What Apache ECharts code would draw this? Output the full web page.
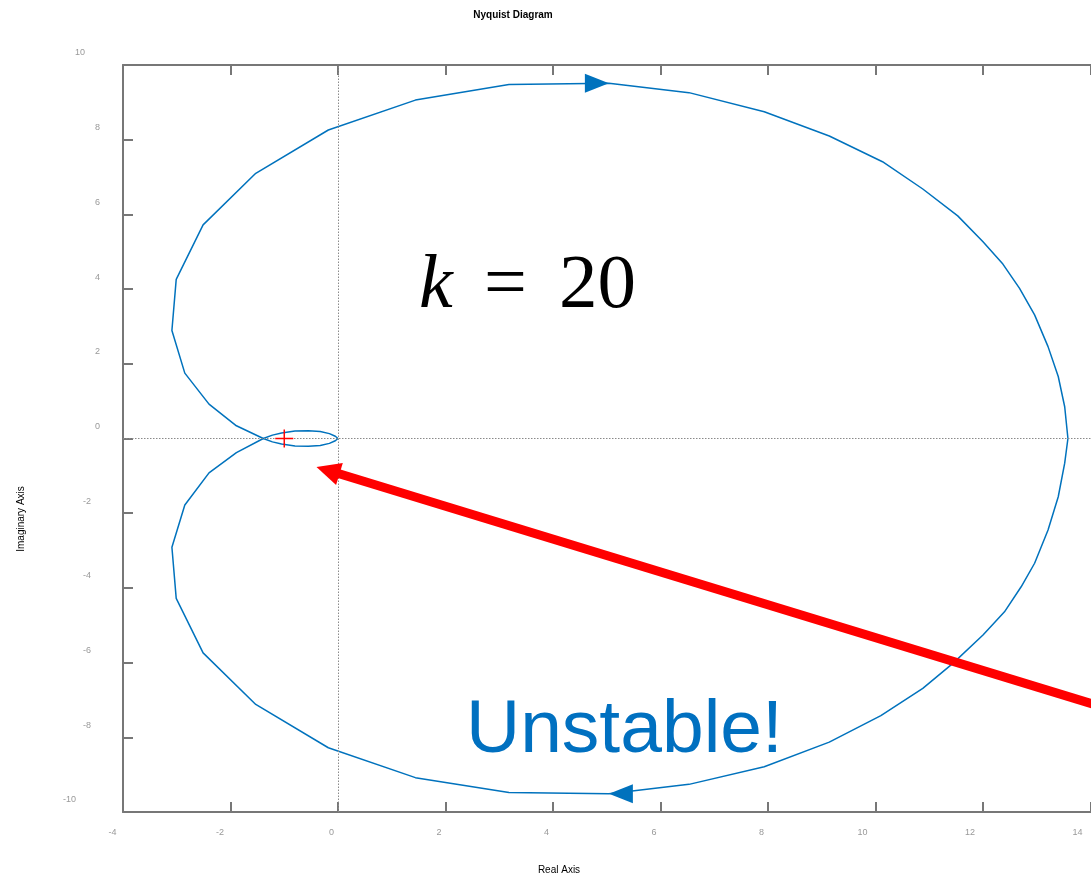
<!DOCTYPE html>
<html>
<head>
<meta charset="utf-8">
<title>Nyquist Diagram</title>
<script src="https://cdn.jsdelivr.net/npm/echarts@6/dist/echarts.min.js"></script>
<style>
  html, body { margin: 0; padding: 0; background: #ffffff; }
  #chart { width: 1091px; height: 876px; }
</style>
</head>
<body>
<div id="chart"></div>
<script>
// Axis ticks
const xTicks = [-4, -2, 0, 2, 4, 6, 8, 10, 12, 14, 16];
const yTicks = [-10, -8, -6, -4, -2, 0, 2, 4, 6, 8, 10];

// Nyquist contour for k = 20, branch traced from w = 0 (right end) through the lower half-plane to the origin
const posRe = [13.58, 13.52, 13.40, 13.21, 12.96, 12.71, 12.40, 12.00, 11.44, 10.88, 10.10, 9.14, 7.93, 6.53, 5.04, 3.18, 1.44, -0.18, -1.53, -2.51, -3.01, -3.09, -2.85, -2.40, -1.89, -1.39, -1.22, -1.05, -0.80, -0.55, -0.33, -0.16, -0.05, 0.00];
const posIm = [0.00, -0.66, -1.56, -2.45, -3.34, -3.97, -4.64, -5.26, -6.02, -6.69, -7.42, -8.13, -8.79, -9.26, -9.51, -9.48, -9.08, -8.28, -7.12, -5.74, -4.28, -2.91, -1.78, -0.92, -0.38, 0.00, 0.09, 0.15, 0.20, 0.21, 0.19, 0.13, 0.06, 0.00];

// Mirror branch (negative frequencies): origin -> small loop -> upper half-plane -> right end
const negRe = [0.00, -0.05, -0.16, -0.33, -0.55, -0.80, -1.05, -1.22, -1.39, -1.89, -2.40, -2.85, -3.09, -3.01, -2.51, -1.53, -0.18, 1.44, 3.18, 5.04, 6.53, 7.93, 9.14, 10.13, 10.88, 11.53, 12.00, 12.37, 12.68, 12.96, 13.21, 13.40, 13.52, 13.58];
const negIm = [0.00, -0.06, -0.13, -0.19, -0.21, -0.20, -0.15, -0.09, 0.00, 0.34, 0.92, 1.75, 2.89, 4.26, 5.72, 7.10, 8.26, 9.06, 9.48, 9.51, 9.26, 8.75, 8.10, 7.41, 6.68, 5.96, 5.27, 4.67, 4.02, 3.31, 2.46, 1.66, 0.85, 0.00];

// Direction arrows on the contour (tip positions)
const arrowRe = [5.04, 5.04];
const arrowIm = [9.51, -9.51];

// Critical point -1 + 0j
const criticalPoint = [-1, 0];

// Red pointer towards the encirclement of -1
const pointerTip = [-0.40, -0.76];
const pointerTail = [15.0, -7.53];

const BLUE = '#0072BD';
const AXIS = '#777777';
const LABEL = '#999999';
const SANS = "'Liberation Sans', Arial, sans-serif";

const zip = (a, b) => a.map((v, i) => [v, b[i]]);

// approximate pixel width of a 9px tick label
const labelW = s => [...s].reduce((w, c) => w + (c === '-' ? 3 : 5), 0);

const yRich = {};
yTicks.forEach((v, i) => {
  yRich['y' + i] = { fontSize: 9, color: LABEL, fontFamily: SANS, padding: [0, 3 * labelW(String(v)), 24, 0] };
});
const xRich = {};
xTicks.forEach((v, i) => {
  xRich['x' + i] = { fontSize: 9, color: LABEL, fontFamily: SANS, padding: [0, Math.round(2.6 * labelW(String(v))), 0, 0] };
});

const chart = echarts.init(document.getElementById('chart'), null, { renderer: 'canvas' });

const option = {
  backgroundColor: '#ffffff',
  animation: false,
  grid: { left: 123, top: 65, width: 1075, height: 747, containLabel: false, outerBoundsMode: 'none' },
  xAxis: [
    {
      type: 'value', min: -4, max: 16, interval: 2, position: 'bottom',
      axisLine: { show: true, onZero: false, lineStyle: { color: AXIS, width: 2 } },
      axisTick: { show: true, inside: true, length: 10, lineStyle: { color: AXIS, width: 2 } },
      axisLabel: {
        show: true, margin: 16, showMinLabel: true, showMaxLabel: true, hideOverlap: false,
        formatter: v => '{x' + xTicks.indexOf(v) + '|' + v + '}', rich: xRich
      },
      splitLine: { show: false }
    },
    {
      type: 'value', min: -4, max: 16, interval: 2, position: 'top',
      axisLine: { show: true, onZero: false, lineStyle: { color: AXIS, width: 2 } },
      axisTick: { show: true, inside: true, length: 10, lineStyle: { color: AXIS, width: 2 } },
      axisLabel: { show: false },
      splitLine: { show: false }
    }
  ],
  yAxis: [
    {
      type: 'value', min: -10, max: 10, interval: 2, position: 'left',
      axisLine: { show: true, onZero: false, lineStyle: { color: AXIS, width: 2 } },
      axisTick: { show: true, inside: true, length: 10, lineStyle: { color: AXIS, width: 2 } },
      axisLabel: {
        show: true, margin: 8, showMinLabel: true, showMaxLabel: true, hideOverlap: false,
        formatter: v => '{y' + yTicks.indexOf(v) + '|' + v + '}', rich: yRich
      },
      splitLine: { show: false }
    }
  ],
  series: [
    {
      // dotted zero lines
      type: 'line', data: [], silent: true,
      markLine: {
        silent: true, symbol: 'none', label: { show: false },
        lineStyle: { color: '#8a8a8a', width: 1, type: [1.5, 1.5] },
        data: [{ xAxis: 0 }, { yAxis: 0 }]
      }
    },
    {
      type: 'line', data: zip(posRe, posIm), showSymbol: false, symbol: 'none', clip: false,
      lineStyle: { color: BLUE, width: 1.5 }, z: 3
    },
    {
      type: 'line', data: zip(negRe, negIm), showSymbol: false, symbol: 'none', clip: false,
      lineStyle: { color: BLUE, width: 1.5 }, z: 3
    },
    {
      type: 'scatter', clip: false, z: 4,
      data: [
        { value: [arrowRe[0], arrowIm[0]], symbolRotate: -90, symbolOffset: [-12, 0] },
        { value: [arrowRe[1], arrowIm[1]], symbolRotate: 90, symbolOffset: [12, 0] }
      ],
      symbol: 'triangle', symbolSize: [19, 24],
      itemStyle: { color: BLUE, opacity: 1 }
    },
    {
      type: 'scatter', clip: false, z: 5,
      data: [criticalPoint],
      symbol: 'path://M-0.08,-1H0.08V1H-0.08Z M-1,-0.08H1V0.08H-1Z',
      symbolSize: 18,
      itemStyle: { color: '#FF0000', opacity: 1 }
    }
  ],
  graphic: [
    {
      type: 'text', x: 513, y: 15, z: 10,
      style: { text: 'Nyquist Diagram', font: "bold 10px 'Liberation Sans', Arial, sans-serif", fill: '#000', align: 'center', verticalAlign: 'middle' }
    },
    {
      type: 'text', x: 559, y: 870, z: 10,
      style: { text: 'Real Axis', font: "10px 'Liberation Sans', Arial, sans-serif", fill: '#000', align: 'center', verticalAlign: 'middle' }
    },
    {
      type: 'text', x: 21, y: 519, rotation: Math.PI / 2, z: 10,
      style: { text: 'Imaginary Axis', font: "10px 'Liberation Sans', Arial, sans-serif", fill: '#000', align: 'center', verticalAlign: 'middle' }
    },
    {
      type: 'text', x: 419, y: 287, z: 10,
      style: { text: 'k', font: "italic 76px 'Liberation Serif', 'DejaVu Serif', serif", fill: '#000', align: 'left', verticalAlign: 'middle' }
    },
    {
      type: 'text', x: 484, y: 287, z: 10,
      style: { text: '=', font: "76px 'Liberation Serif', 'DejaVu Serif', serif", fill: '#000', align: 'left', verticalAlign: 'middle' }
    },
    {
      type: 'text', x: 559, y: 287, z: 10,
      style: { text: '20', font: "77px 'Liberation Serif', 'DejaVu Serif', serif", fill: '#000', align: 'left', verticalAlign: 'middle' }
    },
    {
      type: 'text', x: 466, y: 731, z: 10,
      style: { text: 'Unstable!', font: "75px 'Liberation Sans', Arial, sans-serif", fill: '#0070C0', align: 'left', verticalAlign: 'middle' }
    }
  ]
};

chart.setOption(option);

// Red pointer, placed in data coordinates
const p0 = chart.convertToPixel({ gridIndex: 0 }, pointerTip);
const p1 = chart.convertToPixel({ gridIndex: 0 }, pointerTail);
const dx = p1[0] - p0[0], dy = p1[1] - p0[1];
const len = Math.hypot(dx, dy);
const ux = dx / len, uy = dy / len;
const headLen = 24, headHalf = 11.5;
const bx = p0[0] + ux * headLen, by = p0[1] + uy * headLen;
chart.setOption({
  graphic: [
    {
      id: 'pointerLine', type: 'line', z: 20,
      shape: { x1: bx - ux * 2, y1: by - uy * 2, x2: p1[0], y2: p1[1] },
      style: { stroke: '#FF0000', lineWidth: 9 }
    },
    {
      id: 'pointerHead', type: 'polygon', z: 20,
      shape: { points: [[p0[0], p0[1]], [bx - uy * headHalf, by + ux * headHalf], [bx + uy * headHalf, by - ux * headHalf]] },
      style: { fill: '#FF0000' }
    }
  ]
});
</script>
</body>
</html>
